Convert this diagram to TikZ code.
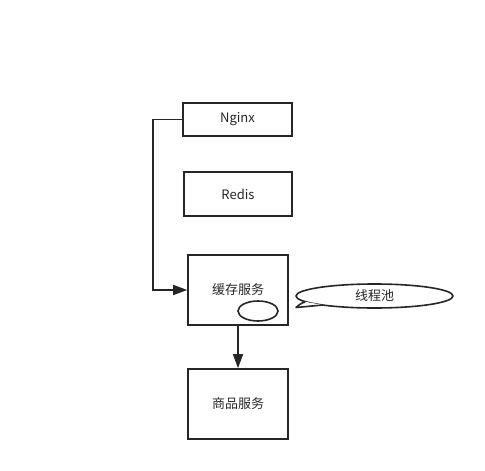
\documentclass[tikz,border=0pt]{standalone}
\usepackage{fontspec}
\setmainfont{Noto Sans CJK SC}
\usetikzlibrary{arrows.meta,shapes.geometric}
\begin{document}
\begin{tikzpicture}[x=1pt,y=-1pt,
  box/.style={draw=black!85,line width=1.6pt,inner sep=0pt,font=\fontsize{13}{15}\selectfont,text=black!85},
  conn/.style={draw=black!85,line width=1.6pt,-{Triangle[length=14pt,width=10pt]}},
  oval/.style={draw=black!85,line width=1.6pt,ellipse,inner sep=0pt,font=\fontsize{13}{15}\selectfont,text=black!85}]
\useasboundingbox (0,0) rectangle (485,471);
\node[box,minimum width=109pt,minimum height=33pt] (nginx) at (237.5,119.5) {Nginx};
\node[box,minimum width=108pt,minimum height=44pt] (redis) at (238,194) {Redis};
\node[box,minimum width=100pt,minimum height=70pt] (cache) at (238,290) {缓存服务};
\node[box,minimum width=100pt,minimum height=70pt] (goods) at (238,404) {商品服务};
\node[oval,minimum width=40pt,minimum height=20pt] (small) at (258,311) {};
\node[oval,minimum width=157pt,minimum height=24pt] (pool) at (374.5,296) {线程池};
\coordinate (ta) at (305,301.8);
\coordinate (tip) at (296,307.5);
\coordinate (tb) at (323,305);
\fill[white] (ta) -- (tip) -- (tb) -- cycle;
\draw[black!85,line width=1.6pt,line join=round] (ta) to[bend right=10] (tip) -- (tb);
\coordinate (bend) at (153,119.5);
\draw[conn] (nginx.west) -- (bend) |- (cache.west);
\draw[conn] (cache.south) -- (goods.north);
\end{tikzpicture}
\end{document}
